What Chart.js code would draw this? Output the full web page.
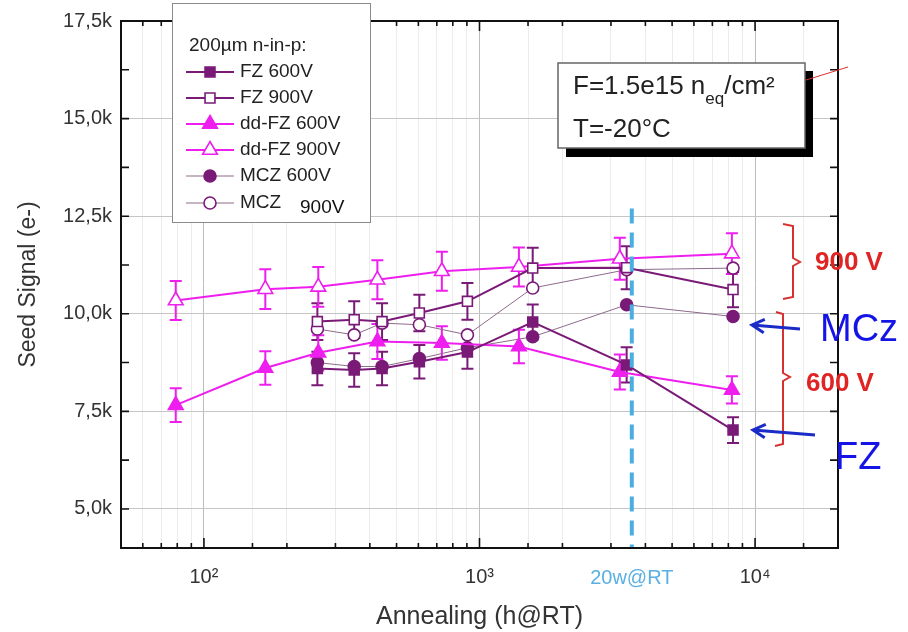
<!DOCTYPE html>
<html>
<head>
<meta charset="utf-8">
<script src="https://cdn.jsdelivr.net/npm/chart.js@4"></script>
<style>
  html, body { margin: 0; padding: 0; background: #fff; }
  #wrap { width: 908px; height: 632px; }
</style>
</head>
<body>
<div id="wrap"><canvas id="c" width="908" height="632"></canvas></div>
<script>
/* Seed signal vs. annealing time, 200um n-in-p */
const hoursDdFz = [79, 167, 260, 426, 730, 1390, 3230, 8240];
const hoursFzMcz = [258, 351, 443, 605, 904, 1560, 3420, 8320];

const fz600 = [8600, 8560, 8600, 8770, 9020, 9790, 8690, 7020];
const fz600Err = [430, 430, 430, 430, 430, 450, 450, 330];
const fz900 = [9800, 9850, 9800, 10020, 10320, 11170, 11180, 10620];
const fz900Err = [470, 470, 470, 470, 470, 520, 550, 450];
const ddFz600 = [7660, 8610, 9000, 9290, 9250, 9160, 8510, 8050];
const ddFz600Err = [430, 430, 450, 450, 430, 430, 450, 350];
const ddFz900 = [10340, 10630, 10690, 10870, 11090, 11200, 11410, 11540];
const ddFz900Err = [500, 510, 510, 500, 500, 500, 540, 520];
const mcz600 = [8750, 8650, 8650, 8850, 9130, 9410, 10230, 9930];
const mcz900 = [9610, 9460, 9760, 9720, 9460, 10660, 11130, 11170];

// y ticks every 1.25k, labelled every 2.5k
const yTickValues = [5000, 6250, 7500, 8750, 10000, 11250, 12500, 13750, 15000, 16250, 17500];
const yMin = 4000, yMax = 17500;
const xMin = 50, xMax = 20000;
const decadeLabels = { 100: "10²", 1000: "10³", 10000: "10⁴" };
const markerHours = 3570;   // 20 weeks @ RT line
const markerLabel = "20w@RT";

const PURPLE = "#7a1a77";
const MAGENTA = "#ee1eee";
const MCZLINE = "#8d6a8b";
const FONT = "'Liberation Sans', Arial, sans-serif";

const pts = (xs, ys) => xs.map((x, i) => ({ x, y: ys[i] }));

function series(label, xs, ys, errs, color, lineColor, lineWidth, style, radius, filled){
  return {
    label, data: pts(xs, ys), errors: errs,
    borderColor: lineColor, borderWidth: lineWidth,
    pointStyle: style, pointRadius: radius, pointHoverRadius: radius,
    pointBorderColor: color, pointBackgroundColor: filled ? color : "#fff",
    pointBorderWidth: 1.6, markColor: color, tension: 0, fill: false
  };
}

const datasets = [
  series("FZ 600V", hoursFzMcz, fz600, fz600Err, PURPLE, PURPLE, 2, "rect", 7, true),
  series("FZ 900V", hoursFzMcz, fz900, fz900Err, PURPLE, PURPLE, 2, "rect", 7, false),
  series("dd-FZ 600V", hoursDdFz, ddFz600, ddFz600Err, MAGENTA, MAGENTA, 2, "triangle", 8.5, true),
  series("dd-FZ 900V", hoursDdFz, ddFz900, ddFz900Err, MAGENTA, MAGENTA, 2, "triangle", 8.5, false),
  series("MCZ 600V", hoursFzMcz, mcz600, null, PURPLE, MCZLINE, 1, "circle", 6, true),
  series("MCZ 900V", hoursFzMcz, mcz900, null, PURPLE, MCZLINE, 1, "circle", 6, false)
];

// error bars, drawn under the markers
const errorBars = {
  id: "errorBars",
  beforeDatasetsDraw(chart){
    const { ctx, scales: { x, y } } = chart;
    chart.data.datasets.forEach(ds => {
      if (!ds.errors) return;
      ctx.save();
      ctx.strokeStyle = ds.markColor;
      ctx.lineWidth = 2;
      ds.data.forEach((p, j) => {
        const e = ds.errors[j];
        const px = x.getPixelForValue(p.x);
        const top = y.getPixelForValue(p.y + e), bot = y.getPixelForValue(p.y - e);
        ctx.beginPath();
        ctx.moveTo(px, top); ctx.lineTo(px, bot);
        ctx.moveTo(px - 6, top); ctx.lineTo(px + 6, top);
        ctx.moveTo(px - 6, bot); ctx.lineTo(px + 6, bot);
        ctx.stroke();
      });
      ctx.restore();
    });
  }
};

function isDecade(v){ const l = Math.log10(v); return Math.abs(l - Math.round(l)) < 1e-6; }

// frame, inward ticks, 20w line, legend and annotations
const decor = {
  id: "decor",
  afterDatasetsDraw(chart){
    const { ctx, chartArea: a, scales: { x, y } } = chart;
    ctx.save();

    // 20 weeks line
    const mx = x.getPixelForValue(markerHours);
    ctx.strokeStyle = "#4aaee0"; ctx.lineWidth = 4; ctx.setLineDash([15, 9]);
    ctx.beginPath(); ctx.moveTo(mx, y.getPixelForValue(12700)); ctx.lineTo(mx, a.bottom); ctx.stroke();
    ctx.setLineDash([]);
    ctx.fillStyle = "#5ab0e0"; ctx.font = "20px " + FONT; ctx.textAlign = "center"; ctx.textBaseline = "middle";
    ctx.fillText(markerLabel, mx, 578);

    // frame + inward ticks
    ctx.strokeStyle = "#111"; ctx.lineWidth = 2;
    ctx.strokeRect(a.left, a.top, a.right - a.left, a.bottom - a.top);
    ctx.lineWidth = 1.6;
    ctx.beginPath();
    y.ticks.forEach(t => {
      if (t.value <= y.min || t.value >= y.max) return;
      const py = y.getPixelForValue(t.value);
      ctx.moveTo(a.left, py); ctx.lineTo(a.left + 8, py);
      ctx.moveTo(a.right, py); ctx.lineTo(a.right - 8, py);
    });
    x.ticks.forEach(t => {
      if (t.value <= x.min || t.value >= x.max) return;
      const px = x.getPixelForValue(t.value), len = isDecade(t.value) ? 10 : 5;
      ctx.moveTo(px, a.bottom); ctx.lineTo(px, a.bottom - len);
      ctx.moveTo(px, a.top); ctx.lineTo(px, a.top + len);
    });
    ctx.stroke();

    // legend
    ctx.fillStyle = "#fff"; ctx.fillRect(172, 3, 198, 219);
    ctx.strokeStyle = "#8a8a8a"; ctx.lineWidth = 1; ctx.strokeRect(172.5, 3.5, 198, 219);
    ctx.fillStyle = "#222"; ctx.font = "19px " + FONT; ctx.textAlign = "left"; ctx.textBaseline = "middle";
    ctx.fillText("200µm n-in-p:", 189, 46);
    const rows = [72, 98, 124, 150, 176, 203];
    chart.data.datasets.forEach((ds, i) => {
      const ry = rows[i];
      ctx.strokeStyle = ds.borderColor; ctx.lineWidth = ds.borderWidth;
      ctx.beginPath(); ctx.moveTo(186, ry); ctx.lineTo(234, ry); ctx.stroke();
      ctx.fillStyle = ds.pointBackgroundColor; ctx.strokeStyle = ds.pointBorderColor; ctx.lineWidth = ds.pointBorderWidth;
      Chart.helpers.drawPoint(ctx, { pointStyle: ds.pointStyle, radius: ds.pointRadius, rotation: 0, borderWidth: ds.pointBorderWidth }, 210, ry);
      ctx.fillStyle = "#222";
      if (i === 5) { ctx.fillText("MCZ", 240, ry); ctx.fillStyle = "#111"; ctx.fillText("900V", 300, ry + 5); }
      else ctx.fillText(ds.label, 240, ry);
    });

    // parameter box
    ctx.fillStyle = "#000"; ctx.fillRect(566, 71, 247, 86);
    ctx.fillStyle = "#fff"; ctx.fillRect(558, 63, 247, 85);
    ctx.strokeStyle = "#666"; ctx.lineWidth = 1.5; ctx.strokeRect(558, 63, 247, 85);
    ctx.fillStyle = "#222"; ctx.textBaseline = "alphabetic";
    ctx.font = "26px " + FONT;
    let tx = 573;
    ctx.fillText("F=1.5e15 n", tx, 94); tx += ctx.measureText("F=1.5e15 n").width;
    ctx.font = "17px " + FONT; ctx.fillText("eq", tx, 104); tx += ctx.measureText("eq").width;
    ctx.font = "26px " + FONT; ctx.fillText("/cm²", tx, 94);
    ctx.fillText("T=-20°C", 573, 137);
    ctx.strokeStyle = "#e03030"; ctx.lineWidth = 1;
    ctx.beginPath(); ctx.moveTo(806, 80); ctx.lineTo(848, 67); ctx.stroke();

    // brackets
    ctx.strokeStyle = "#d63030"; ctx.lineWidth = 2;
    ctx.beginPath();
    ctx.moveTo(783, 224); ctx.lineTo(793, 226); ctx.lineTo(793, 258); ctx.lineTo(800, 262);
    ctx.lineTo(793, 266); ctx.lineTo(793, 297); ctx.lineTo(783, 299);
    ctx.moveTo(776, 312); ctx.lineTo(783, 314); ctx.lineTo(783, 373); ctx.lineTo(790, 377);
    ctx.lineTo(783, 381); ctx.lineTo(783, 444); ctx.lineTo(775, 446);
    ctx.stroke();
    ctx.fillStyle = "#e02424"; ctx.font = "bold 26px " + FONT; ctx.textBaseline = "middle";
    ctx.fillText("900 V", 815, 263);
    ctx.fillText("600 V", 806, 384);

    // blue arrows + labels
    ctx.strokeStyle = "#1a2bc8"; ctx.lineWidth = 3;
    const arrow = (x0, y0, x1, y1) => {
      const ang = Math.atan2(y1 - y0, x1 - x0);
      ctx.beginPath(); ctx.moveTo(x0, y0); ctx.lineTo(x1, y1);
      ctx.moveTo(x1 + 14 * Math.cos(ang + Math.PI - 0.5), y1 + 14 * Math.sin(ang + Math.PI - 0.5));
      ctx.lineTo(x1, y1);
      ctx.lineTo(x1 + 14 * Math.cos(ang + Math.PI + 0.5), y1 + 14 * Math.sin(ang + Math.PI + 0.5));
      ctx.stroke();
    };
    arrow(800, 329, 752, 325);
    arrow(815, 435, 753, 430);
    ctx.fillStyle = "#1414e6"; ctx.font = "38px " + FONT;
    ctx.fillText("MCz", 820, 331);
    ctx.fillText("FZ", 835, 459);
    ctx.restore();
  }
};

new Chart(document.getElementById("c"), {
  type: "line",
  data: { datasets },
  options: {
    responsive: false,
    devicePixelRatio: 1,
    animation: false,
    layout: { padding: { top: 21, right: 70, left: 0, bottom: 0 } },
    plugins: { legend: { display: false }, tooltip: { enabled: false } },
    scales: {
      x: {
        type: "logarithmic", min: xMin, max: xMax,
        afterFit: s => { s.height = 84; },
        border: { display: false },
        grid: {
          drawTicks: false,
          color: c => (c.tick && isDecade(c.tick.value)) ? "#bdbdbd" : "#ececec",
          lineWidth: 1
        },
        ticks: {
          autoSkip: false, maxRotation: 0, padding: 17,
          color: "#333", font: { family: FONT, size: 20 },
          callback: v => decadeLabels[v] || ""
        },
        title: {
          display: true, text: "Annealing (h@RT)", color: "#333",
          font: { family: FONT, size: 25 }, padding: { top: 0, bottom: 0 }
        }
      },
      y: {
        min: yMin, max: yMax,
        afterFit: s => { s.width = 121; },
        afterBuildTicks: s => { s.ticks = yTickValues.map(v => ({ value: v })); },
        border: { display: false },
        grid: {
          drawTicks: false,
          color: c => (c.tick && c.tick.value % 2500 === 0) ? "#c6c6c6" : "rgba(0,0,0,0)"
        },
        ticks: {
          autoSkip: false, padding: 9,
          color: "#333", font: { family: FONT, size: 20 },
          callback: v => (v % 2500 === 0) ? (v / 1000).toFixed(1).replace(".", ",") + "k" : ""
        },
        title: {
          display: true, text: "Seed Signal (e-)", color: "#333",
          font: { family: FONT, size: 23 }, padding: { top: 15, bottom: 0 }
        }
      }
    }
  },
  plugins: [errorBars, decor]
});
</script>
</body>
</html>
